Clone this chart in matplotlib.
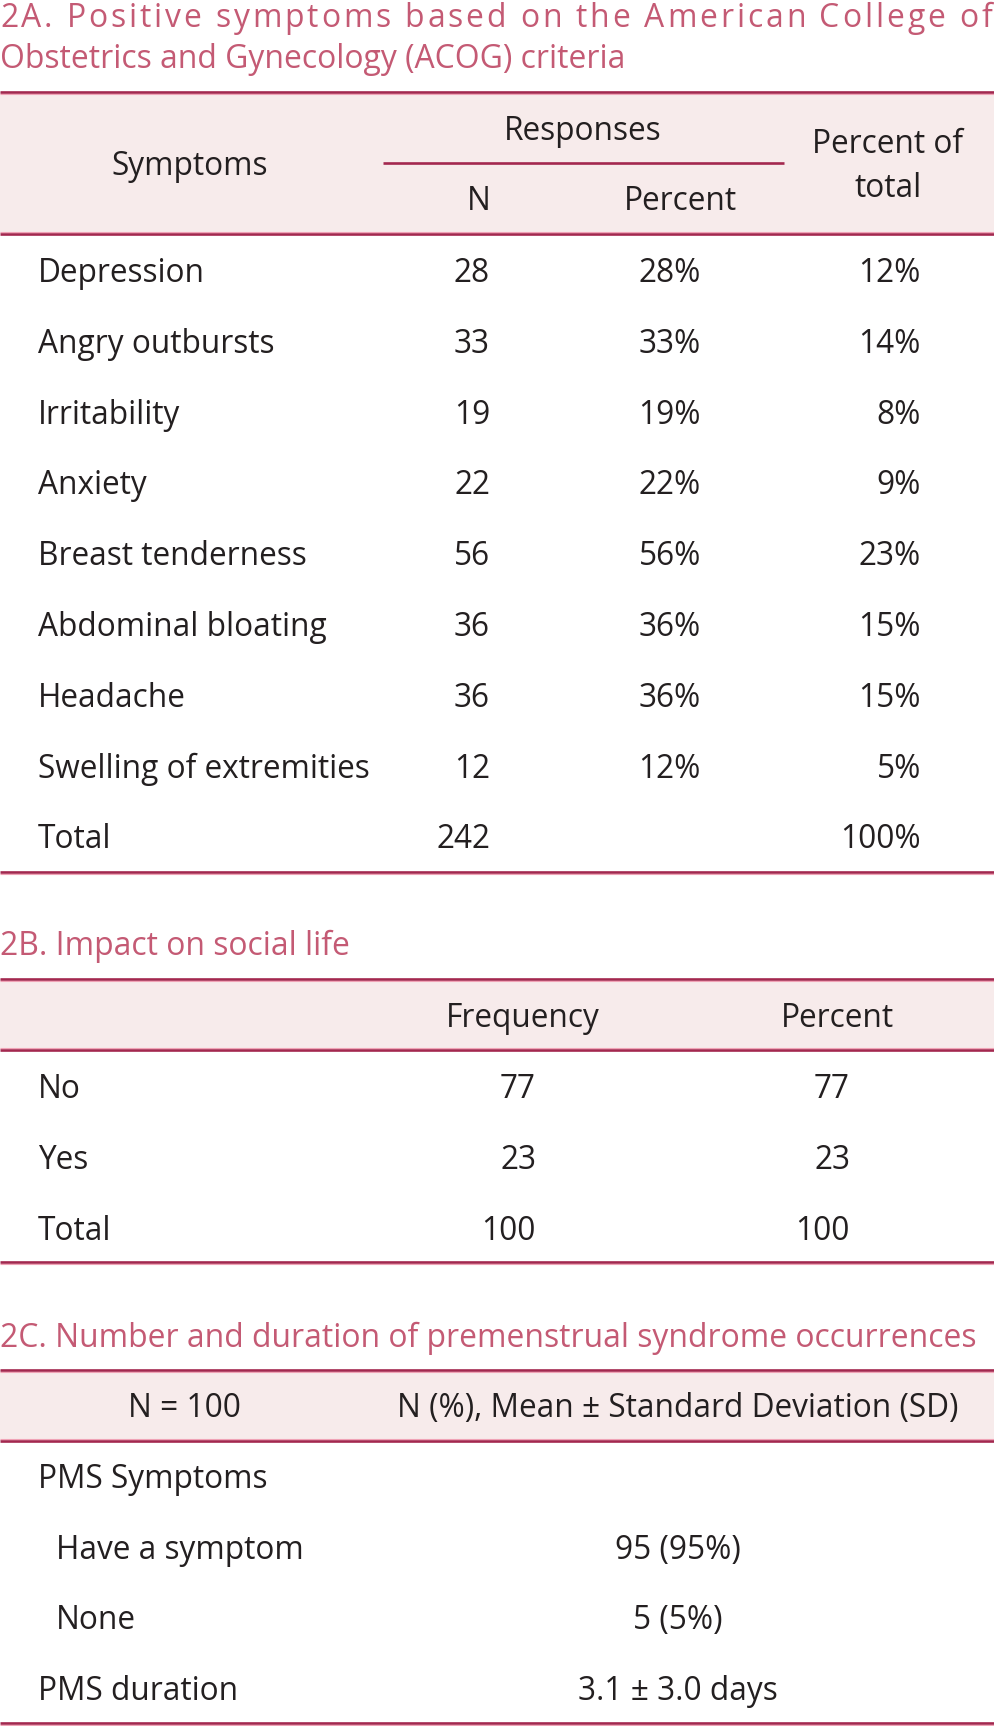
import matplotlib
matplotlib.use("Agg")
import matplotlib.pyplot as plt

# ---------------- data ----------------
title_a_line1 = "2A. Positive symptoms based on the American College of"
title_a_line2 = "Obstetrics and Gynecology (ACOG) criteria"
title_b = "2B. Impact on social life"
title_c = "2C. Number and duration of premenstrual syndrome occurrences"

symptoms = ["Depression", "Angry outbursts", "Irritability", "Anxiety",
            "Breast tenderness", "Abdominal bloating", "Headache",
            "Swelling of extremities", "Total"]
resp_n = ["28", "33", "19", "22", "56", "36", "36", "12", "242"]
resp_pct = ["28%", "33%", "19%", "22%", "56%", "36%", "36%", "12%", ""]
pct_total = ["12%", "14%", "8%", "9%", "23%", "15%", "15%", "5%", "100%"]

social_labels = ["No", "Yes", "Total"]
social_freq = ["77", "23", "100"]
social_pct = ["77", "23", "100"]

c_head = ["N = 100", "N (%), Mean \u00b1 Standard Deviation (SD)"]
c_labels = ["PMS Symptoms", "Have a symptom", "None", "PMS duration"]
c_indent = [False, True, True, False]
c_values = ["", "95 (95%)", "5 (5%)", "3.1 \u00b1 3.0 days"]

# ---------------- style ----------------
FONT = "Open Sans"
TITLE_C = "#c45a74"
TEXT_C = "#231f20"
DARK = "#a3284f"
PINK = "#f0a3b6"
FILL = "#f7ebeb"

W, H = 994, 1726
fig = plt.figure(figsize=(W / 100, H / 100), dpi=100)
ax = fig.add_axes([0, 0, 1, 1])
ax.set_xlim(0, W)
ax.set_ylim(H, 0)
ax.axis("off")
fig.canvas.draw()
renderer = fig.canvas.get_renderer()


def text_width(s, size):
    t = ax.text(0, 0, s, fontsize=size, family=FONT)
    bb = t.get_window_extent(renderer=renderer)
    t.remove()
    return bb.width


def fit_size(s, target):
    return 20 * target / text_width(s, 20)


title_size = fit_size(title_c, 973)
body_size = fit_size("Swelling of extremities", 331)


def T(x, y, s, ha="left", color=TEXT_C, size=None):
    ax.text(x, y, s, ha=ha, va="baseline", fontsize=size or body_size,
            family=FONT, color=color)


def hline(y, x0=0, x1=W, pink_side=1):
    ax.plot([x0, x1], [y, y], color=DARK, lw=1.9, solid_capstyle="butt", zorder=3)
    ax.plot([x0, x1], [y + pink_side * 1.8, y + pink_side * 1.8], color=PINK,
            lw=0.8, solid_capstyle="butt", zorder=3)


def fill(y0, y1):
    ax.fill_between([0, W], [y0, y0], [y1, y1], color=FILL, lw=0, zorder=1)


# ---------------- 2A ----------------
# justified first title line (letter-spaced to the full width)
s = title_a_line1
bar_w = text_width("|", title_size)
prefix = [0.0] + [text_width(s[:i] + "|", title_size) - bar_w for i in range(1, len(s))]
natural = text_width(s, title_size)
track = (992 - natural) / (len(s) - 1)
for i, ch in enumerate(s):
    if ch != " ":
        T(prefix[i] + track * i, 27, ch, color=TITLE_C, size=title_size)
T(0, 68, title_a_line2, color=TITLE_C, size=title_size)

fill(92, 234)
hline(92, pink_side=1)
hline(234, pink_side=-1)
ax.plot([383, 784], [163, 163], color=DARK, lw=1.9, solid_capstyle="butt", zorder=3)

T(190, 175, "Symptoms", ha="center")
T(583, 140, "Responses", ha="center")
T(479, 210, "N", ha="center")
T(680, 210, "Percent", ha="center")
T(888, 153, "Percent of", ha="center")
T(888, 197, "total", ha="center")

for i, (sym, n, p, pt) in enumerate(zip(symptoms, resp_n, resp_pct, pct_total)):
    yb = 282 + 70.8 * i
    T(38, yb, sym)
    T(490, yb, n, ha="right")
    T(701, yb, p, ha="right")
    T(921, yb, pt, ha="right")
hline(872, pink_side=1)

# ---------------- 2B ----------------
T(0, 955, title_b, color=TITLE_C, size=title_size)
fill(979, 1050)
hline(979, pink_side=1)
hline(1050, pink_side=-1)
T(523, 1027, "Frequency", ha="center")
T(837, 1027, "Percent", ha="center")
for i, (lab, f, p) in enumerate(zip(social_labels, social_freq, social_pct)):
    yb = 1098 + 71 * i
    T(38, yb, lab)
    T(536, yb, f, ha="right")
    T(850, yb, p, ha="right")
hline(1262, pink_side=1)

# ---------------- 2C ----------------
T(0, 1347, title_c, color=TITLE_C, size=title_size)
fill(1370, 1441)
hline(1370, pink_side=1)
hline(1441, pink_side=-1)
T(184, 1417, c_head[0], ha="center")
T(678, 1417, c_head[1], ha="center")
for i, (lab, ind, v) in enumerate(zip(c_labels, c_indent, c_values)):
    yb = 1488 + 70.7 * i
    T(56 if ind else 38, yb, lab)
    T(678, yb, v, ha="center")
hline(1723, pink_side=1)

fig.savefig("out.png", dpi=100)
